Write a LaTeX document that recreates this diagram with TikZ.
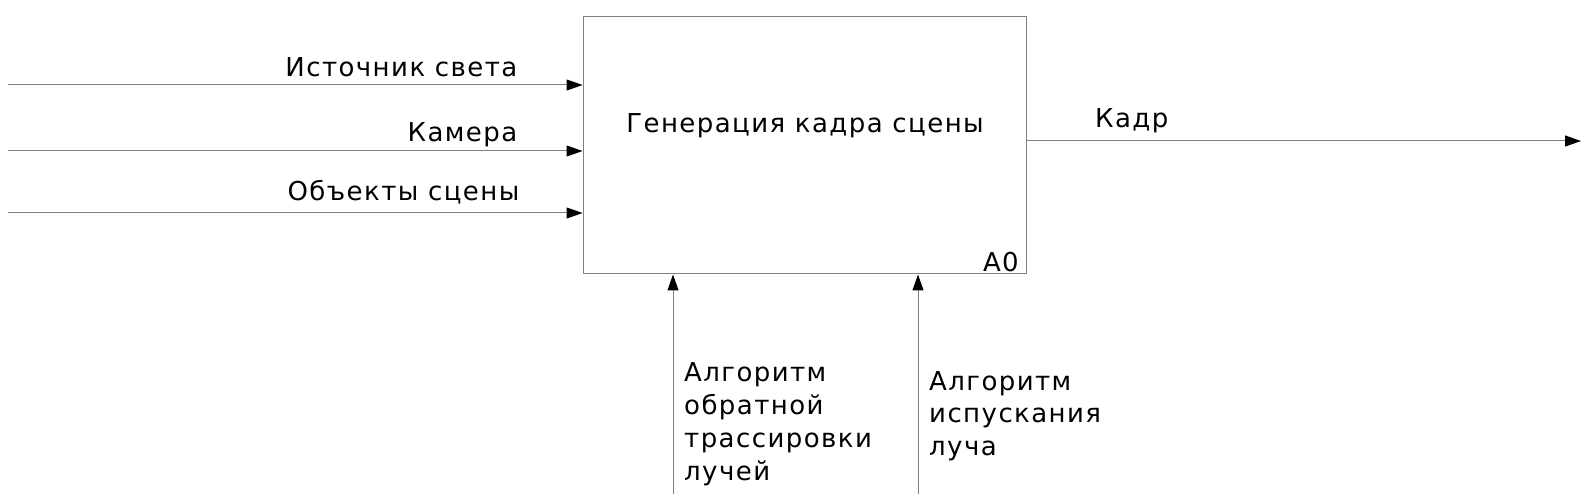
\documentclass[tikz,border=0pt]{standalone}
\usepackage{fontspec}
\setmainfont{DejaVu Sans}[LetterSpace=5.5]
\usetikzlibrary{arrows.meta}
\begin{document}
\begin{tikzpicture}[x=1pt,y=-1pt,
  lbl/.style={inner sep=0pt, font=\fontsize{26}{32.8}\selectfont, text=black},
  conn/.style={draw=black!50, line width=1pt, -{Triangle[length=16pt,width=11pt,color=black]}},
  funcbox/.style={draw=black!50, line width=1pt, minimum width=443pt, minimum height=257pt, inner sep=0pt}]
\useasboundingbox (0,0) rectangle (1582,494);
\node[funcbox] (box) at (804.5,145.5) {};
\node[lbl, anchor=base] (title) at (805,132.2) {Генерация кадра сцены};
\node[lbl, anchor=base east] (num) at (1019,271.2) {A0};
% inputs
\coordinate (in1) at (8,85);
\coordinate (in2) at (8,151);
\coordinate (in3) at (8,213);
\draw[conn] (in1) -- (box.west |- in1);
\draw[conn] (in2) -- (box.west |- in2);
\draw[conn] (in3) -- (box.west |- in3);
\node[lbl, anchor=base east] (l1) at (517.5,76.5) {Источник света};
\node[lbl, anchor=base east] (l2) at (517.5,141.5) {Камера};
\node[lbl, anchor=base east] (l3) at (519.5,201) {Объекты сцены};
% output
\coordinate (out) at (1581,141);
\draw[conn] (box.east |- out) -- (out);
\node[lbl, anchor=base west] (lo) at (1095,127.5) {Кадр};
% controls
\coordinate (c1) at (673,494);
\coordinate (c2) at (918,494);
\draw[conn] (c1) -- (box.south -| c1);
\draw[conn] (c2) -- (box.south -| c2);
\node[lbl, anchor=base west, align=left] (lc1) at (684,480) {Алгоритм\\обратной\\трассировки\\лучей};
\node[lbl, anchor=base west, align=left] (lc2) at (929,455.6) {Алгоритм\\испускания\\луча};
\end{tikzpicture}
\end{document}
